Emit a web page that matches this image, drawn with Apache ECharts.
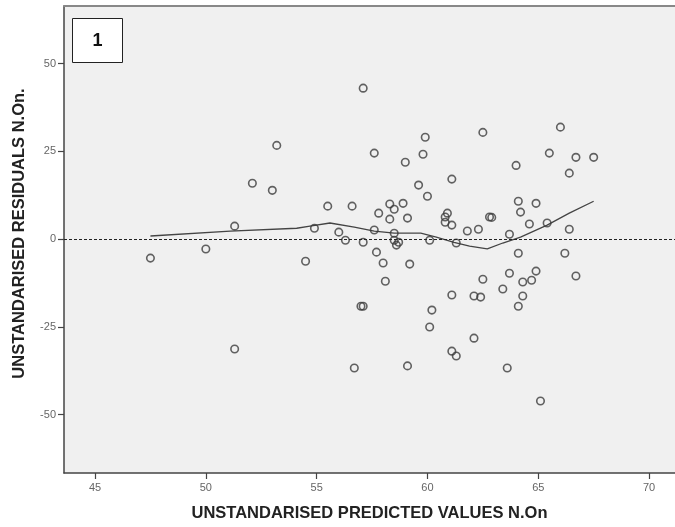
<!DOCTYPE html>
<html>
<head>
<meta charset="utf-8">
<script src="https://cdn.jsdelivr.net/npm/echarts@6/dist/echarts.min.js"></script>
<style>
html,body{margin:0;padding:0;background:#fff;}
#chart{width:675px;height:527px;}
</style>
</head>
<body>
<div id="chart"></div>
<script>
// Predicted values (x) and residuals (y)
var predicted = [47.5,50.0,51.3,52.1,53.0,53.2,54.5,51.3,54.9,55.5,56.0,56.3,56.6,57.1,57.6,57.6,57.1,57.7,57.8,58.0,58.1,57.0,57.1,56.7,58.3,58.5,58.9,58.3,58.5,58.5,58.7,58.6,59.1,59.2,59.1,59.0,59.6,59.8,59.9,60.0,60.1,60.2,60.1,60.9,60.8,60.8,61.1,61.1,61.3,61.1,61.1,61.3,61.8,62.3,62.5,62.8,62.9,62.5,62.1,62.4,62.1,63.4,63.7,63.7,63.6,64.0,64.1,64.1,64.2,64.1,64.3,64.3,64.7,64.6,64.9,64.9,65.1,65.4,65.5,66.0,66.2,66.4,66.4,66.7,66.7,67.5];
var residuals = [-5.4,-2.8,3.7,15.9,13.9,26.7,-6.3,-31.3,3.1,9.4,2.0,-0.3,9.4,43.0,24.5,2.6,-0.9,-3.7,7.4,-6.8,-12.0,-19.1,-19.1,-36.7,10.0,8.5,10.2,5.7,1.7,-0.3,-0.9,-1.7,6.0,-7.1,-36.1,21.9,15.4,24.2,29.0,12.2,-0.3,-20.2,-25.0,7.4,6.3,4.8,4.0,17.1,-1.1,-15.9,-31.9,-33.3,2.3,2.8,30.4,6.3,6.2,-11.4,-16.2,-16.5,-28.2,-14.2,-9.7,1.4,-36.7,21.0,-4.0,10.8,7.7,-19.1,-12.2,-16.2,-11.7,4.3,10.2,-9.1,-46.1,4.6,24.5,31.9,-4.0,18.8,2.8,23.3,-10.5,23.3];
// Loess fit line
var fitX = [47.5,51.1,54.1,54.7,55.6,56.7,57.6,58.5,59.7,60.4,61.2,61.9,62.7,63.4,64.2,65.4,66.4,67.5];
var fitY = [0.9,2.3,3.1,3.7,4.6,3.4,2.3,1.7,1.7,0.6,-0.9,-2.0,-2.8,-1.1,0.6,4.0,7.4,10.8];
var xTicks = [45,50,55,60,65,70];
var yTicks = [-50,-25,0,25,50];
var xName = 'UNSTANDARISED PREDICTED VALUES N.On';
var yName = 'UNSTANDARISED RESIDUALS N.On.';
var panelLabel = '1';

var pts = predicted.map(function(x,i){return [x, residuals[i]];});
var fit = fitX.map(function(x,i){return [x, fitY[i]];});

var chart = echarts.init(document.getElementById('chart'), null, {renderer:'canvas'});
var font = 'Liberation Sans, Arial, sans-serif';
chart.setOption({
  animation:false,
  backgroundColor:'#ffffff',
  grid:{left:64,right:0,top:6,bottom:54,show:true,backgroundColor:'#f0f0f0',borderWidth:0,containLabel:false,outerBoundsMode:'none'},
  xAxis:[{
    type:'value',min:43.6,max:71.17,
    name:xName,nameLocation:'middle',nameGap:32,
    nameTextStyle:{fontFamily:font,fontWeight:'bold',fontSize:16.5,color:'#222'},
    axisLine:{show:true,onZero:false,lineStyle:{color:'#444',width:1.5}},
    axisTick:{show:true,length:6,lineStyle:{color:'#444',width:1.2},customValues:xTicks},
    axisLabel:{color:'#666',fontFamily:font,fontSize:11,margin:9,customValues:xTicks},
    splitLine:{show:false}
  },{
    type:'value',position:'top',min:43.6,max:71.17,
    axisLine:{show:true,onZero:false,lineStyle:{color:'#888',width:2}},
    axisTick:{show:false},axisLabel:{show:false},splitLine:{show:false}
  }],
  yAxis:{
    type:'value',min:-66.6,max:66.4,
    name:yName,nameLocation:'middle',nameGap:36,nameRotate:90,
    nameTextStyle:{fontFamily:font,fontWeight:'bold',fontSize:16.5,color:'#222',padding:[0,0,0,12]},
    axisLine:{show:true,onZero:false,lineStyle:{color:'#444',width:1.5}},
    axisTick:{show:true,length:6,lineStyle:{color:'#444',width:1.2},customValues:yTicks},
    axisLabel:{color:'#666',fontFamily:font,fontSize:11,margin:8,customValues:yTicks},
    splitLine:{show:false}
  },
  series:[{
    type:'line',data:fit,showSymbol:false,symbol:'none',
    lineStyle:{color:'#444',width:1.3},z:2,silent:true
  },{
    type:'scatter',data:pts,symbol:'circle',symbolSize:7.5,
    itemStyle:{color:'rgba(240,240,240,0)',borderColor:'#3c3c3c',borderWidth:1.6},
    z:3,
    markLine:{
      silent:true,symbol:['none','none'],label:{show:false},
      lineStyle:{color:'#222',type:[3,2],width:1},
      data:[{yAxis:0}]
    }
  }],
  graphic:[{
    type:'group',left:72,top:18,
    children:[
      {type:'rect',shape:{x:0,y:0,width:50,height:44},style:{fill:'#fff',stroke:'#222',lineWidth:1}},
      {type:'text',x:25,y:23,style:{text:panelLabel,fontFamily:font,fontWeight:'bold',fontSize:18,fill:'#111',align:'center',verticalAlign:'middle'}}
    ]
  }]
});
</script>
</body>
</html>
